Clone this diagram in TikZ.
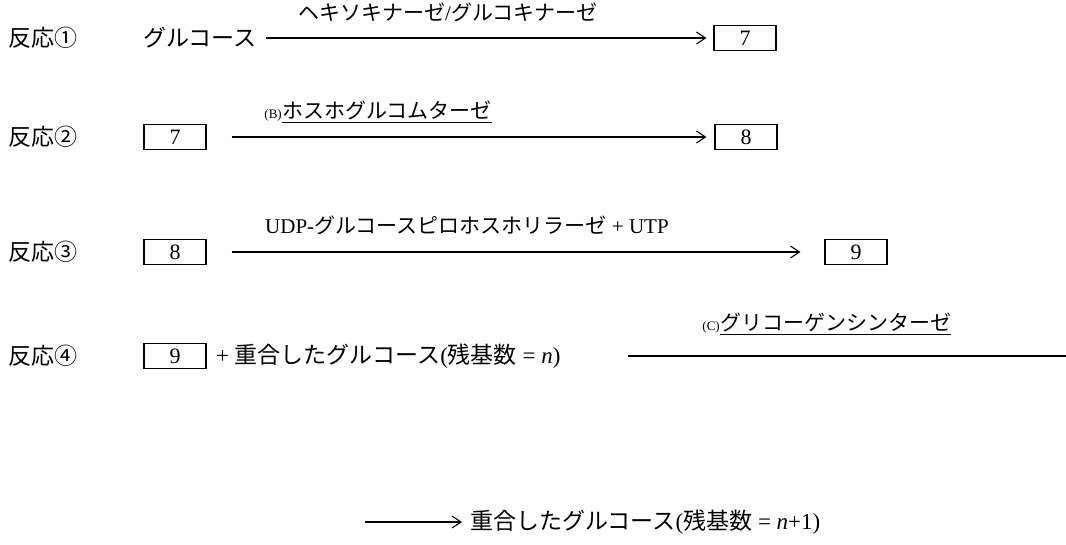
\documentclass[tikz,border=0pt]{standalone}
\usepackage{fontspec}
\setmainfont{Liberation Serif}
\newfontfamily\jp{Noto Sans CJK JP}
\usetikzlibrary{arrows.meta}
\begin{document}
\begin{tikzpicture}[x=1pt,y=-1pt,
  txt/.style={font=\fontsize{23}{26}\selectfont, inner sep=0pt, anchor=west},
  lbl/.style={font=\fontsize{21}{24}\selectfont, inner sep=0pt, anchor=west},
  small/.style={font=\fontsize{13}{14}\selectfont, inner sep=0pt, anchor=base east},
  numbox/.style={draw, line width=1.1pt, minimum width=62pt, minimum height=25pt, inner sep=0pt, font=\fontsize{22}{24}\selectfont},
  arr/.style={line width=1.1pt, -{Straight Barb[length=9pt,width=12pt,line width=1.1pt]}},
  plain/.style={line width=1.1pt},
  uline/.style={line width=0.9pt}]
\useasboundingbox (0,0) rectangle (1066,544);
% Row 1
\node[txt] (r1) at (8,38) {{\jp 反応①}};
\node[txt] (g1) at (143,38) {{\jp グルコース}};
\node[numbox] (b17) at (745,38) {7};
\node[lbl] (e1) at (298,12) {{\jp ヘキソキナーゼ}/{\jp グルコキナーゼ}};
\coordinate (a1s) at (266,38);
\draw[arr] (a1s) -- ([xshift=-7pt]b17.west);
% Row 2
\node[txt] (r2) at (8,137) {{\jp 反応②}};
\node[numbox] (b27) at (175,137) {7};
\node[numbox] (b28) at (746,137) {8};
\node[lbl] (e2) at (282,110) {{\jp ホスホグルコムターゼ}};
\node[small] (e2s) at (e2.base west) {(B)};
\draw[uline] ([yshift=-3pt]e2.south west) -- ([yshift=-3pt]e2.south east);
\draw[arr] ([xshift=25pt]b27.east) -- ([xshift=-8pt]b28.west);
% Row 3
\node[txt] (r3) at (8,252) {{\jp 反応③}};
\node[numbox] (b38) at (175,252) {8};
\node[numbox] (b39) at (856,252) {9};
\node[lbl] (e3) at (265,225) {UDP-{\jp グルコースピロホスホリラーゼ} + UTP};
\draw[arr] ([xshift=25pt]b38.east) -- ([xshift=-24pt]b39.west);
% Row 4
\node[txt] (r4) at (8,356) {{\jp 反応④}};
\node[numbox] (b49) at (175,356) {9};
\node[txt] (p4) at (216,356) {+ {\jp 重合したグルコース}({\jp 残基数} = \textit{n})};
\node[lbl] (e4) at (720,322) {{\jp グリコーゲンシンターゼ}};
\node[small] (e4s) at (e4.base west) {(C)};
\draw[uline] ([yshift=-3pt]e4.south west) -- ([yshift=-3pt]e4.south east);
\coordinate (l4s) at (628,356);
\coordinate (edge4) at (1066,356);
\draw[plain] (l4s) -- (edge4);
% Row 5
\node[txt] (p5) at (470,522) {{\jp 重合したグルコース}({\jp 残基数} = \textit{n}+1)};
\coordinate (a5s) at (365,522);
\draw[arr] (a5s) -- ([xshift=-8pt]p5.west);
\end{tikzpicture}
\end{document}
